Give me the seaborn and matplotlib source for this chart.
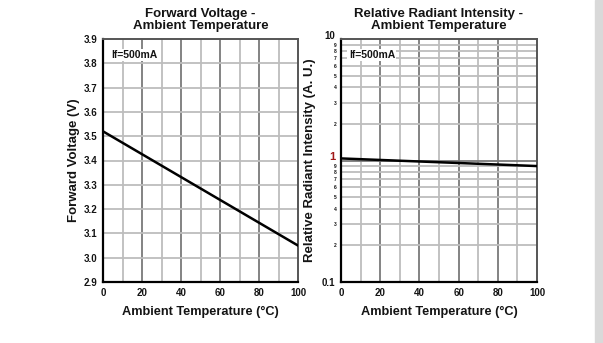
import matplotlib
matplotlib.use("Agg")
import matplotlib.pyplot as plt
import matplotlib.ticker as mticker
import matplotlib.patches as mpatches
import matplotlib.transforms as mtrans
import seaborn as sns
import pandas as pd
import numpy as np

sns.set_theme(style="white")
plt.rcParams['font.family'] = ['Liberation Sans', 'DejaVu Sans']
plt.rcParams['font.weight'] = 'bold'

temps = [0, 100]
voltage = [3.52, 3.05]
intensity = [1.04, 0.90]
x_ticks = [0, 20, 40, 60, 80, 100]
v_ticks = [2.9, 3.0, 3.1, 3.2, 3.3, 3.4, 3.5, 3.6, 3.7, 3.8, 3.9]
i_major = [0.1, 1, 10]
i_major_labels = ['0.1', '1', '10']
i_minor_mult = [2, 3, 4, 5, 6, 7, 8, 9]

TXT = '#141414'
MAJ = '#7a7a7a'
MIN = '#bdbdbd'

fig = plt.figure(figsize=(6.03, 3.43), dpi=100)
fig.patch.set_facecolor('white')
fig.patches.append(mpatches.Rectangle((595/603, 0), 8/603, 1, transform=fig.transFigure,
                                      color='#d9d9d9', zorder=0))

ax1 = fig.add_axes([103/603, 1-282/343, 195/603, 243/343])
ax2 = fig.add_axes([341/603, 1-282/343, 196/603, 243/343])

df = pd.DataFrame({'T': temps, 'V': voltage, 'I': intensity})

for ax in (ax1, ax2):
    for x in range(10, 100, 10):
        ax.axvline(x, color=MAJ if x % 20 == 0 else MIN, lw=1.3, zorder=1)
    ax.set_xlim(0, 100)
    ax.set_xticks(x_ticks)
    ax.set_xticklabels([str(t) for t in x_ticks], fontsize=7, fontweight='bold', color=TXT)
    ax.set_xlabel('Ambient Temperature (°C)', fontsize=9.2, fontweight='bold', color=TXT, labelpad=6)
    for s in ['left', 'bottom']:
        ax.spines[s].set_color('#000000')
        ax.spines[s].set_linewidth(1.6)
    for s in ['top', 'right']:
        ax.spines[s].set_color('#555555')
        ax.spines[s].set_linewidth(1.4)
    ax.tick_params(axis='both', which='both', length=2, width=0.8, color='#000000', pad=2)
    ax.text(0.04, 0.955, 'If=500mA', transform=ax.transAxes, fontsize=7.5, fontweight='bold',
            color=TXT, va='top', ha='left', zorder=5,
            bbox=dict(facecolor='white', edgecolor='none', pad=1))

# Left chart
for v in v_ticks[1:-1]:
    ax1.axhline(v, color=MIN, lw=1.3, zorder=1)
sns.lineplot(data=df, x='T', y='V', ax=ax1, color='black', lw=1.8, zorder=4)
ax1.set_ylim(2.9, 3.9)
ax1.set_yticks(v_ticks)
ax1.set_yticklabels([f'{v:.1f}' for v in v_ticks], fontsize=7, fontweight='bold', color=TXT)
ax1.set_ylabel('Forward Voltage (V)', fontsize=9.5, fontweight='bold', color=TXT, labelpad=3)
ax1.set_title('Forward Voltage -\nAmbient Temperature', fontsize=9.5, fontweight='bold',
              color=TXT, pad=7, linespacing=1.05)

# Right chart
minor = [d * m for d in i_major[:-1] for m in i_minor_mult]
for v in minor:
    ax2.axhline(v, color=MIN, lw=1.3, zorder=1)
ax2.axhline(1, color=MAJ, lw=1.3, zorder=1)
sns.lineplot(data=df, x='T', y='I', ax=ax2, color='black', lw=1.8, zorder=4)
ax2.set_yscale('log')
ax2.set_ylim(0.1, 10)
ax2.yaxis.set_major_locator(mticker.FixedLocator(i_major))
ax2.yaxis.set_major_formatter(mticker.FixedFormatter(i_major_labels))
ax2.yaxis.set_minor_locator(mticker.FixedLocator(minor))
ax2.yaxis.set_minor_formatter(mticker.FixedFormatter([str(m) for d in i_major[:-1] for m in i_minor_mult]))
ax2.tick_params(axis='y', which='major', labelsize=7, labelcolor=TXT)
ax2.tick_params(axis='y', which='minor', length=2, pad=1, labelsize=3.6, labelcolor=TXT)
fig.canvas.draw()
labs = ax2.yaxis.get_major_ticks()
for i, t in enumerate(labs):
    t.label1.set_fontweight('bold')
    if i == 1:
        t.label1.set_color('#a01818')
        t.label1.set_fontsize(8)
        t.label1.set_va('bottom')
        t.label1.set_transform(t.label1.get_transform() + mtrans.ScaledTranslation(0, -1/72, fig.dpi_scale_trans))
    if i == 2:
        t.label1.set_va('bottom')
        t.label1.set_transform(t.label1.get_transform() + mtrans.ScaledTranslation(0, -1.5/72, fig.dpi_scale_trans))
for t in ax2.yaxis.get_minor_ticks():
    t.label1.set_fontweight('bold')
ax2.set_ylabel('Relative Radiant Intensity (A. U.)', fontsize=9.5, fontweight='bold', color=TXT, labelpad=4)
ax2.set_title('Relative Radiant Intensity -\nAmbient Temperature', fontsize=9.5, fontweight='bold',
              color=TXT, pad=7, linespacing=1.05)

fig.savefig('out.png', dpi=100, facecolor='white')
